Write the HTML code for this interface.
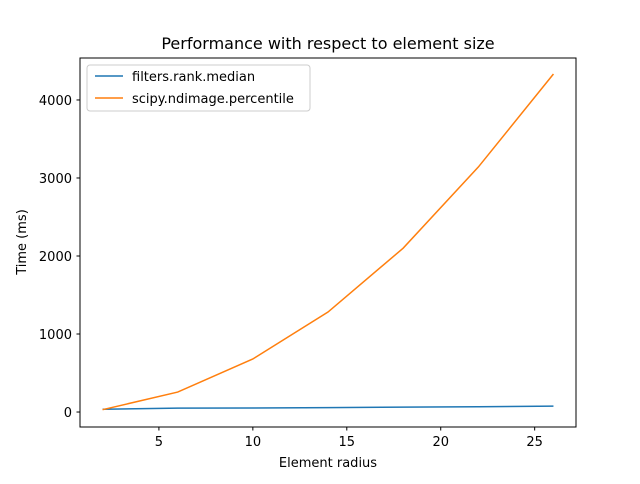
<!DOCTYPE html>
<html><head><meta charset="utf-8"><style>
body{margin:0;background:#fff;font-family:"DejaVu Sans","Liberation Sans",sans-serif}
</style></head><body>
<svg id="chart" width="640" height="480" xmlns="http://www.w3.org/2000/svg" font-family="DejaVu Sans, Liberation Sans, sans-serif">
<rect width="640" height="480" fill="#fff"/>
<text x="328" y="49" text-anchor="middle" font-size="16" fill="#000">Performance with respect to element size</text>
<g id="ticks"></g>
<g id="lines"></g>
<rect x="80" y="58" width="496" height="369" fill="none" stroke="#000" stroke-width="1"/>
<text x="328" y="467" text-anchor="middle" font-size="13">Element radius</text>
<text transform="translate(26,242) rotate(-90)" text-anchor="middle" font-size="13">Time (ms)</text>
<g>
<rect x="87" y="65" width="223" height="46" rx="3" fill="#fff" fill-opacity="0.8" stroke="#ccc"/>
<g>
<line x1="95" y1="76" x2="123" y2="76" stroke="#1f77b4" stroke-width="1.5"/>
<text x="132" y="81" font-size="13">filters.rank.median</text></g>
<g>
<line x1="95" y1="98" x2="123" y2="98" stroke="#ff7f0e" stroke-width="1.5"/>
<text x="132" y="103" font-size="13">scipy.ndimage.percentile</text></g>
</g>
</svg>
<script>
const radii=[2,6,10,14,18,22,26];
const medianMs=[35,50,52,57,63,68,76];
const percentileMs=[30,256,680,1282,2100,3140,4333];
const xTicks=[5,10,15,20,25];
const yTicks=[0,1000,2000,3000,4000];
const NS="http://www.w3.org/2000/svg";
const X0=0.8,X1=27.2,Y0=-192,Y1=4538;
function sx(v){return 80+(v-X0)/(X1-X0)*496;}
function sy(v){return 427-(v-Y0)/(Y1-Y0)*369;}
const tg=document.getElementById('ticks');
xTicks.forEach(t=>{
 const l=document.createElementNS(NS,'line');
 l.setAttribute('x1',sx(t));l.setAttribute('x2',sx(t));l.setAttribute('y1',427);l.setAttribute('y2',430.5);l.setAttribute('stroke','#000');
 
 
 tg.appendChild(l);
 const tx=document.createElementNS(NS,'text');
 tx.setAttribute('x',sx(t));tx.setAttribute('y',446);tx.setAttribute('text-anchor','middle');tx.setAttribute('font-size','13');tx.textContent=t;
 
 
 tg.appendChild(tx);
});
yTicks.forEach(t=>{
 const l=document.createElementNS(NS,'line');
 l.setAttribute('x1',76.5);l.setAttribute('x2',80);l.setAttribute('y1',sy(t));l.setAttribute('y2',sy(t));l.setAttribute('stroke','#000');
 
 
 tg.appendChild(l);
 const tx=document.createElementNS(NS,'text');
 tx.setAttribute('x',72);tx.setAttribute('y',sy(t)+5);tx.setAttribute('text-anchor','end');tx.setAttribute('font-size','13');tx.textContent=t;
 
 
 tg.appendChild(tx);
});
const lg=document.getElementById('lines');
[[medianMs,'#1f77b4','line-median'],[percentileMs,'#ff7f0e','line-percentile']].forEach(([d,c,n])=>{
 const p=document.createElementNS(NS,'polyline');
 p.setAttribute('points',radii.map((r,i)=>sx(r)+','+sy(d[i])).join(' '));
 p.setAttribute('fill','none');p.setAttribute('stroke',c);p.setAttribute('stroke-width','1.5');
 
 
 lg.appendChild(p);
});
</script>
</body></html>
